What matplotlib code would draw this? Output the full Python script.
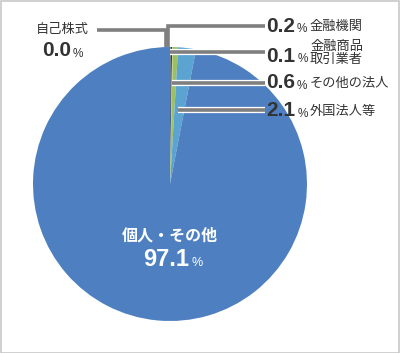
import matplotlib
matplotlib.use("Agg")
import matplotlib.pyplot as plt
import matplotlib.patheffects as pe

plt.rcParams['font.family'] = ['Noto Sans CJK JP', 'DejaVu Sans']

categories = ["自己株式", "金融機関", "金融商品\n取引業者", "その他の法人", "外国法人等", "個人・その他"]
values = [0.0, 0.2, 0.1, 0.6, 2.1, 97.1]
colors = ["#F2C545", "#1F3A6E", "#B5CF86", "#9CBF62", "#5BA3D0", "#4E80C1"]

W, H = 400, 353
fig = plt.figure(figsize=(W / 100, H / 100), dpi=100)
ax = fig.add_axes([0, 0, 1, 1])
ax.set_xlim(0, W)
ax.set_ylim(0, H)
ax.set_aspect('equal')
ax.axis('off')

def Y(y):
    return H - y

# small visual minimum so the 0.0% slice remains visible as a thin line
draw_vals = [v if v > 0 else 0.05 for v in values]
ax.pie(draw_vals, colors=colors, startangle=90, counterclock=False,
       center=(170, Y(184)), radius=137, frame=True,
       wedgeprops=dict(linewidth=0))
ax.set_xlim(0, W)
ax.set_ylim(0, H)
ax.axis('off')

lc = '#7f7f7f'
halo = [pe.Stroke(linewidth=4.5, foreground='white'), pe.Normal()]
lw = 2.6
# leader lines
ax.plot([97, 165.5, 165.5], [Y(30), Y(30), Y(47)], color=lc, lw=lw, solid_capstyle='butt', solid_joinstyle='miter')
ax.plot([167.5, 167.5, 265], [Y(47), Y(26), Y(26)], color=lc, lw=lw, solid_capstyle='butt', solid_joinstyle='miter')
ax.plot([170, 265], [Y(52), Y(52)], color=lc, lw=lw, path_effects=halo, solid_capstyle='butt')
ax.plot([172, 265], [Y(83), Y(83)], color=lc, lw=lw, path_effects=halo, solid_capstyle='butt')
ax.plot([178, 265], [Y(110), Y(110)], color=lc, lw=lw, path_effects=halo, solid_capstyle='butt')

tc = '#333333'
numfont = ['Liberation Sans', 'DejaVu Sans']

def pct_label(x, y, val, name, name_dy=0):
    t = ax.text(x, Y(y), f"{val:.1f}", fontsize=15, fontweight='bold', family=numfont,
                color=tc, ha='left', va='center')
    fig.canvas.draw()
    bb = t.get_window_extent()
    xe = bb.x1
    ax.text(xe + 2, Y(y) - 3, "%", fontsize=8.5, color=tc, ha='left', va='center', family=numfont)
    ax.text(xe + 15, Y(y + name_dy), name, fontsize=9.5, color=tc, ha='left', va='center',
            linespacing=1.0)

pct_label(266, 26, values[1], categories[1])
pct_label(266, 56, values[2], categories[2], name_dy=-3)
pct_label(266, 83, values[3], categories[3])
pct_label(266, 111, values[4], categories[4])

# 自己株式 label
ax.text(62, Y(30), categories[0], fontsize=9.5, color=tc, ha='center', va='center')
t = ax.text(42, Y(51), f"{values[0]:.1f}", fontsize=15, fontweight='bold', family=numfont,
            color=tc, ha='left', va='center')
fig.canvas.draw()
xe = t.get_window_extent().x1
ax.text(xe + 2, Y(54), "%", fontsize=8.5, color=tc, ha='left', va='center', family=numfont)

# center label
ax.text(170, Y(236), categories[5], fontsize=11.5, fontweight='bold', color='white', ha='center', va='center')
t = ax.text(143, Y(260), f"{values[5]:.1f}", fontsize=17, fontweight='bold', family=numfont,
            color='white', ha='left', va='center')
fig.canvas.draw()
xe = t.get_window_extent().x1
ax.text(xe + 2, Y(263), "%", fontsize=9, color='white', ha='left', va='center', family=numfont)

# frame
fig.patches.append(plt.Rectangle((0.5 / W, 0.5 / H), 1 - 1.5 / W, 1 - 1.5 / H, transform=fig.transFigure,
                                 fill=False, edgecolor='#c8c8c8', linewidth=1.2))

fig.savefig("out.png", dpi=100)
